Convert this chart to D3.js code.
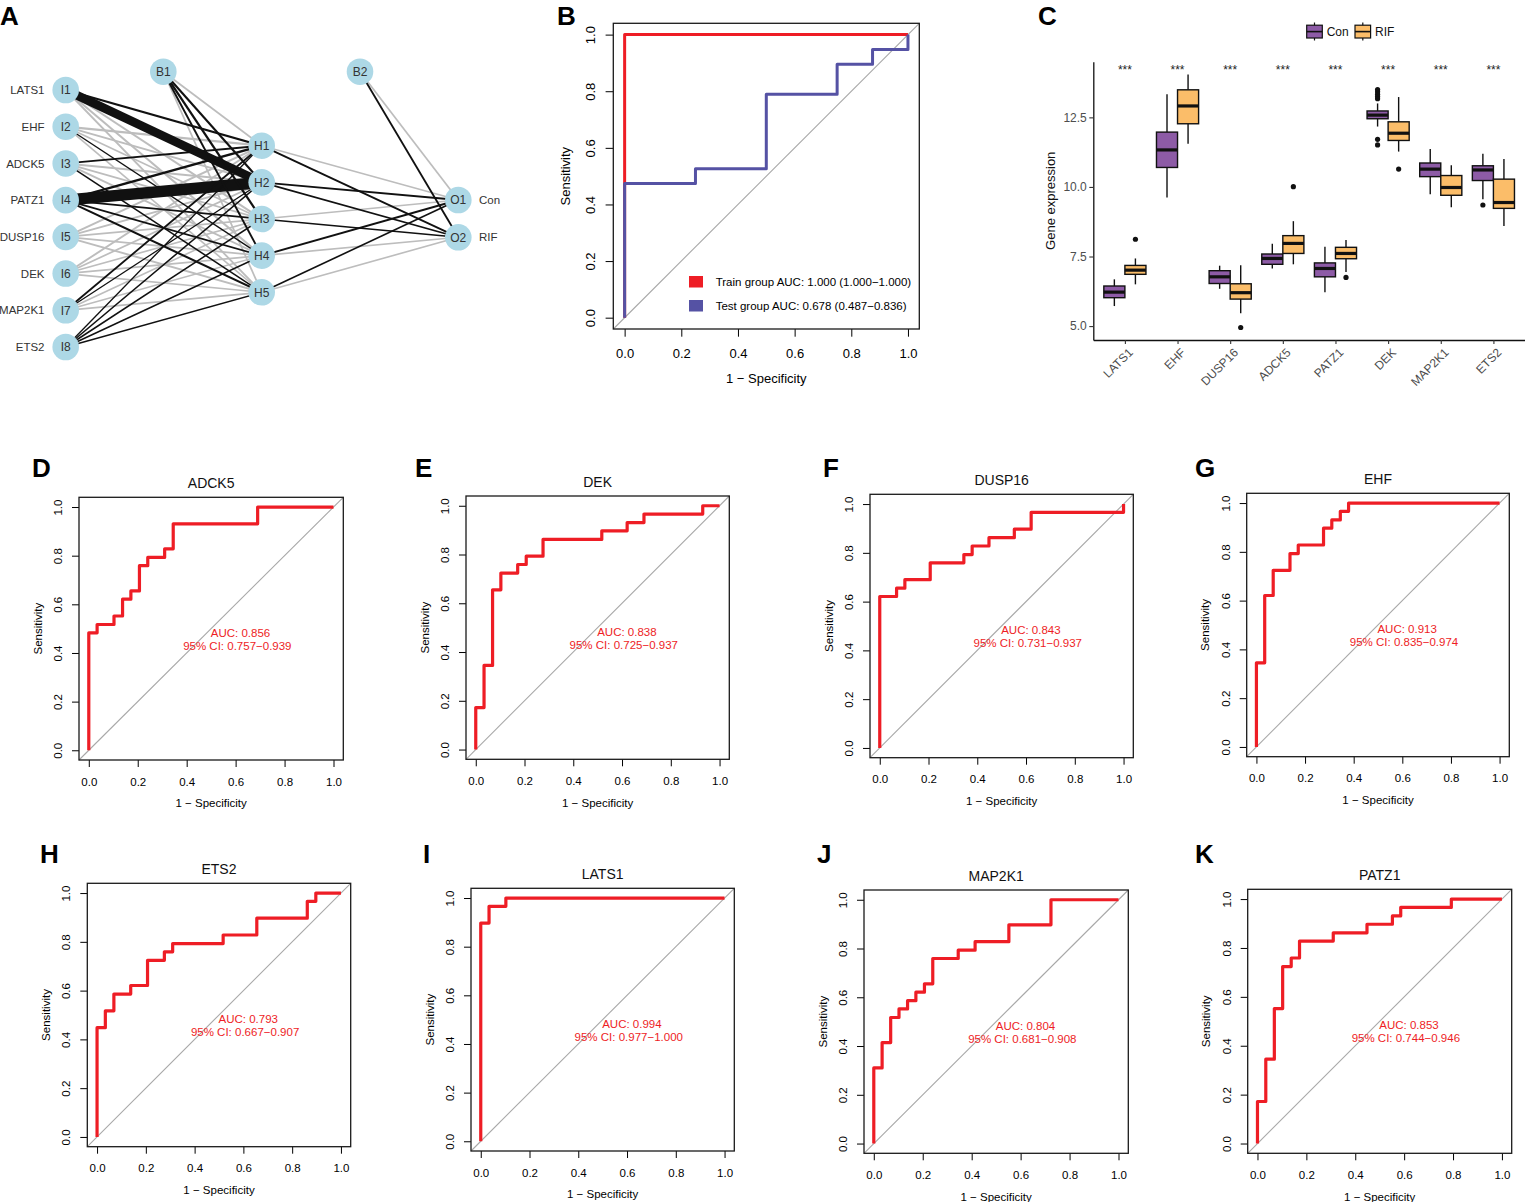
<!DOCTYPE html>
<html><head><meta charset="utf-8">
<script src="https://cdn.jsdelivr.net/npm/d3@7/dist/d3.min.js"></script>
<style>
body{margin:0;background:#fff;}
svg{display:block;font-family:"Liberation Sans",Arial,Helvetica,sans-serif;}
</style>
</head><body>
<svg id="fig" width="1525" height="1202"></svg>
<script>
// ---------------- DATA ----------------
// Panel A: neural network
const inputGenes = ["LATS1","EHF","ADCK5","PATZ1","DUSP16","DEK","MAP2K1","ETS2"];
const inputNodes = ["I1","I2","I3","I4","I5","I6","I7","I8"];
const hiddenNodes = ["H1","H2","H3","H4","H5"];
const outputNodes = ["O1","O2"];
const outputClasses = ["Con","RIF"];
// signed weights (positive = black, negative = grey), magnitude -> line width
const inputHiddenWeights = [
  [ 2.4,  9.0, -2.1, -2.1, -1.9],
  [-2.3, -1.9, -1.7,  1.4, -1.7],
  [ 1.9, -2.1, -1.9, -1.9,  1.6],
  [ 2.4, 12.0,  1.8,  1.8,  2.2],
  [-2.1, -2.0, -1.8, -1.8, -2.0],
  [-2.0, -1.8, -1.7, -1.7, -1.8],
  [ 1.9,  1.3, -1.7, -1.7, -1.8],
  [ 1.4,  1.6,  1.6,  1.6,  1.5]
];
const biasHiddenWeights = [-1.9, 2.2, 2.4, 2.0, -1.8];
const hiddenOutputWeights = [
  [-1.7, 1.9],
  [ 2.0, 1.7],
  [-1.7, 1.7],
  [ 2.0,-1.7],
  [ 1.7,-1.7]
];
const biasOutputWeights = [-1.8, 1.9];

// Panel B: train / test ROC
const trainFpr = [0, 0, 1];
const trainTpr = [0, 1, 1];
const testFpr = [0, 0, 0.25, 0.5, 0.75, 0.875, 1];
const testTpr = [0, 0.474, 0.526, 0.789, 0.895, 0.947, 1];
const trainLegend = "Train group AUC: 1.000 (1.000\u22121.000)";
const testLegend = "Test group AUC: 0.678 (0.487\u22120.836)";

// Panel C: boxplots
const boxGenes = ["LATS1","EHF","DUSP16","ADCK5","PATZ1","DEK","MAP2K1","ETS2"];
const conMin    = [5.72, 9.62, 6.34, 7.07, 6.22, 12.17, 9.74, 9.56];
const conQ1     = [6.02, 10.70, 6.53, 7.22, 6.77, 12.45, 10.37, 10.23];
const conMedian = [6.22, 11.33, 6.77, 7.43, 7.07, 12.58, 10.64, 10.61];
const conQ3     = [6.44, 11.97, 6.99, 7.59, 7.27, 12.73, 10.86, 10.76];
const conMax    = [6.68, 13.33, 7.17, 7.96, 7.85, 13.00, 11.36, 11.19];
const conOutliers = [[],[],[],[],[],[13.17,13.25,13.33,13.42,13.5,11.71,11.51],[],[9.35]];
const rifMin    = [6.50, 11.55, 5.46, 7.22, 6.94, 11.27, 9.27, 8.60];
const rifQ1     = [6.86, 12.27, 5.97, 7.61, 7.42, 11.67, 9.70, 9.23];
const rifMedian = [7.01, 12.91, 6.20, 7.97, 7.61, 11.93, 9.98, 9.44];
const rifQ3     = [7.18, 13.49, 6.52, 8.25, 7.83, 12.34, 10.41, 10.28];
const rifMax    = [7.43, 14.04, 7.19, 8.77, 8.09, 13.23, 10.78, 11.00];
const rifOutliers = [[8.12],[],[4.95],[10.01],[6.75],[10.64],[],[]];
const sigLabels = ["***","***","***","***","***","***","***","***"];
const groupNames = ["Con","RIF"];
const boxTicks = [5.0, 7.5, 10.0, 12.5];

// Panels D-K: single-gene ROC curves
const rocGenes = ["ADCK5","DEK","DUSP16","EHF","ETS2","LATS1","MAP2K1","PATZ1"];
const adck5Fpr  = [0,0,0.034,0.103,0.138,0.172,0.207,0.241,0.310,0.345,0.690,1];
const adck5Tpr  = [0,0.483,0.517,0.552,0.621,0.655,0.759,0.793,0.828,0.931,1,1];
const dekFpr    = [0,0,0.034,0.069,0.103,0.172,0.207,0.276,0.517,0.621,0.690,0.931,1];
const dekTpr    = [0,0.172,0.345,0.655,0.724,0.759,0.793,0.862,0.897,0.931,0.966,1,1];
const dusp16Fpr = [0,0,0.069,0.103,0.207,0.345,0.379,0.448,0.552,0.621,1];
const dusp16Tpr = [0,0.621,0.655,0.690,0.759,0.793,0.828,0.862,0.897,0.966,1];
const ehfFpr    = [0,0,0.034,0.069,0.138,0.172,0.276,0.310,0.345,0.379,1];
const ehfTpr    = [0,0.345,0.621,0.724,0.793,0.828,0.897,0.931,0.966,1,1];
const ets2Fpr   = [0,0,0.034,0.069,0.138,0.207,0.276,0.310,0.517,0.655,0.862,0.897,1];
const ets2Tpr   = [0,0.448,0.517,0.586,0.621,0.724,0.759,0.793,0.828,0.897,0.966,1,1];
const lats1Fpr  = [0,0,0.034,0.103,1];
const lats1Tpr  = [0,0.897,0.966,1,1];
const map2k1Fpr = [0,0,0.034,0.069,0.103,0.138,0.172,0.207,0.241,0.345,0.414,0.552,0.724,1];
const map2k1Tpr = [0,0.310,0.414,0.517,0.552,0.586,0.621,0.655,0.759,0.793,0.828,0.897,1,1];
const patz1Fpr  = [0,0,0.034,0.069,0.103,0.138,0.172,0.310,0.448,0.552,0.586,0.793,1];
const patz1Tpr  = [0,0.172,0.345,0.552,0.724,0.759,0.828,0.862,0.897,0.931,0.966,1,1];
const rocFprList = [adck5Fpr, dekFpr, dusp16Fpr, ehfFpr, ets2Fpr, lats1Fpr, map2k1Fpr, patz1Fpr];
const rocTprList = [adck5Tpr, dekTpr, dusp16Tpr, ehfTpr, ets2Tpr, lats1Tpr, map2k1Tpr, patz1Tpr];
const aucValues = ["0.856","0.838","0.843","0.913","0.793","0.994","0.804","0.853"];
const ciLow  = ["0.757","0.725","0.731","0.835","0.667","0.977","0.681","0.744"];
const ciHigh = ["0.939","0.937","0.937","0.974","0.907","1.000","0.908","0.946"];
const rocTicks = [0, 0.2, 0.4, 0.6, 0.8, 1.0];

// ---------------- STYLE / LAYOUT ----------------
const RED = "#ee1d25", BLUE = "#5552a4", GREY_DIAG = "#a8a8a8";
const NET_POS = "#111111", NET_NEG = "#bdbdbd", NODE = "#add8e6";
const CON_COL = "#8d5ba6", RIF_COL = "#fbbd69";

const svg = d3.select("#fig");
svg.append("rect").attr("width",1525).attr("height",1202).attr("fill","#fff");

// panel letters
const letters = [["A",0,25],["B",557,25],["C",1038,25],["D",32,477],["E",415,477],["F",823,477],["G",1195,477],
  ["H",40,863],["I",423,863],["J",817,863],["K",1195,863]];
svg.selectAll("text.letter").data(letters).join("text").attr("class","letter")
  .attr("x",d=>d[1]).attr("y",d=>d[2]).text(d=>d[0])
  .attr("font-size",26).attr("font-weight","bold").attr("fill","#000");

// ---------------- PANEL A ----------------
(function(){
  const g = svg.append("g");
  const yIn = d3.scalePoint().domain(inputNodes).range([90, 347]);
  const yHid = d3.scalePoint().domain(hiddenNodes).range([145.7, 292.3]);
  const yOut = d3.scalePoint().domain(outputNodes).range([200, 237.3]);
  const xIn = 65.7, xHid = 261.7, xOut = 458.3, xB1 = 163.3, xB2 = 360, yBias = 71.7;
  const wScale = d3.scaleLinear().domain([0, 12]).range([0, 11.5]);
  const edges = [];
  inputNodes.forEach((n,i)=>hiddenNodes.forEach((h,j)=>edges.push({x1:xIn,y1:yIn(n),x2:xHid,y2:yHid(h),w:inputHiddenWeights[i][j]})));
  hiddenNodes.forEach((h,j)=>edges.push({x1:xB1,y1:yBias,x2:xHid,y2:yHid(h),w:biasHiddenWeights[j]}));
  hiddenNodes.forEach((h,j)=>outputNodes.forEach((o,k)=>edges.push({x1:xHid,y1:yHid(h),x2:xOut,y2:yOut(o),w:hiddenOutputWeights[j][k]})));
  outputNodes.forEach((o,k)=>edges.push({x1:xB2,y1:yBias,x2:xOut,y2:yOut(o),w:biasOutputWeights[k]}));
  edges.sort((a,b)=>(a.w>0)-(b.w>0));
  g.selectAll("line.edge").data(edges).join("line").attr("class","edge")
    .attr("x1",d=>d.x1).attr("y1",d=>d.y1).attr("x2",d=>d.x2).attr("y2",d=>d.y2)
    .attr("stroke",d=>d.w>0?NET_POS:NET_NEG).attr("stroke-width",d=>wScale(Math.abs(d.w)));
  const nodes = [];
  inputNodes.forEach(n=>nodes.push({x:xIn,y:yIn(n),t:n}));
  hiddenNodes.forEach(n=>nodes.push({x:xHid,y:yHid(n),t:n}));
  outputNodes.forEach(n=>nodes.push({x:xOut,y:yOut(n),t:n}));
  nodes.push({x:xB1,y:yBias,t:"B1"}); nodes.push({x:xB2,y:yBias,t:"B2"});
  const ng = g.selectAll("g.node").data(nodes).join("g").attr("class","node");
  ng.append("circle").attr("cx",d=>d.x).attr("cy",d=>d.y).attr("r",13.3).attr("fill",NODE);
  ng.append("text").attr("x",d=>d.x).attr("y",d=>d.y).attr("dy","0.36em").attr("text-anchor","middle")
    .attr("font-size",12).attr("fill","#333").text(d=>d.t);
  g.selectAll("text.inlab").data(inputGenes).join("text").attr("class","inlab")
    .attr("x",44.5).attr("y",(d,i)=>yIn(inputNodes[i])).attr("dy","0.36em").attr("text-anchor","end")
    .attr("font-size",11.5).attr("fill","#333").text(d=>d);
  g.selectAll("text.outlab").data(outputClasses).join("text").attr("class","outlab")
    .attr("x",479).attr("y",(d,i)=>yOut(outputNodes[i])).attr("dy","0.36em")
    .attr("font-size",11.5).attr("fill","#333").text(d=>d);
})();

// ---------------- ROC helper ----------------
function rocFrame(box, fs, tickLen, offs){
  const g = svg.append("g");
  const x = d3.scaleLinear().domain([-0.04,1.04]).range([box.L, box.R]);
  const y = d3.scaleLinear().domain([-0.04,1.04]).range([box.B, box.T]);
  g.append("line").attr("x1",x(-0.04)).attr("y1",y(-0.04)).attr("x2",x(1.04)).attr("y2",y(1.04))
    .attr("stroke",GREY_DIAG).attr("stroke-width",1.1);
  const ax = g.append("g").attr("transform",`translate(0,${box.B})`)
    .call(d3.axisBottom(x).tickValues(rocTicks).tickFormat(d3.format(".1f")).tickSize(tickLen).tickSizeOuter(0));
  ax.select(".domain").remove();
  ax.selectAll("line").attr("stroke","#000").attr("stroke-width",1);
  ax.selectAll("text").attr("y",offs.xl).attr("dy","0.35em").attr("font-size",fs).attr("fill","#000")
    .attr("font-family","Liberation Sans, Arial, sans-serif");
  const ay = g.append("g").attr("transform",`translate(${box.L},0)`)
    .call(d3.axisLeft(y).tickValues(rocTicks).tickFormat(d3.format(".1f")).tickSize(tickLen).tickSizeOuter(0));
  ay.select(".domain").remove();
  ay.selectAll("line").attr("stroke","#000").attr("stroke-width",1);
  ay.selectAll("text").attr("x",0).attr("dy","0.35em").attr("text-anchor","middle")
    .attr("transform",`translate(${-offs.yl},0) rotate(-90)`).attr("font-size",fs).attr("fill","#000")
    .attr("font-family","Liberation Sans, Arial, sans-serif");
  g.append("rect").attr("x",box.L).attr("y",box.T).attr("width",box.R-box.L).attr("height",box.B-box.T)
    .attr("fill","none").attr("stroke","#1a1a1a").attr("stroke-width",1.3);
  g.append("text").attr("x",(box.L+box.R)/2).attr("y",box.B+offs.xt).attr("dy","0.35em").attr("text-anchor","middle")
    .attr("font-size",fs).text("1 \u2212 Specificity");
  g.append("text").attr("transform",`translate(${box.L-offs.yt},${(box.T+box.B)/2}) rotate(-90)`)
    .attr("dy","0.35em").attr("text-anchor","middle").attr("font-size",fs).text("Sensitivity");
  return {g,x,y};
}

// ---------------- PANEL B ----------------
(function(){
  const box = {L:613.3,T:23.3,R:919.3,B:329};
  const {g,x,y} = rocFrame(box, 13, 7.7, {xl:24.3, yl:23.3, xt:49.3, yt:48.3});
  const line = d3.line().x(d=>x(d[0])).y(d=>y(d[1])).curve(d3.curveStepAfter);
  g.append("path").attr("d",line(trainFpr.map((f,i)=>[f,trainTpr[i]])))
    .attr("fill","none").attr("stroke",RED).attr("stroke-width",3).attr("stroke-linejoin","round");
  g.append("path").attr("d",line(testFpr.map((f,i)=>[f,testTpr[i]])))
    .attr("fill","none").attr("stroke",BLUE).attr("stroke-width",3).attr("stroke-linejoin","round");
  const leg = [[trainLegend,RED],[testLegend,BLUE]];
  leg.forEach((d,i)=>{
    g.append("rect").attr("x",689).attr("y",276+i*24).attr("width",14).attr("height",11.5).attr("fill",d[1]);
    g.append("text").attr("x",715.7).attr("y",282+i*24).attr("dy","0.35em").attr("font-size",11.5).text(d[0]);
  });
})();

// ---------------- PANELS D-K ----------------
const rocBoxes = [
  {L:79,T:497.3,R:343.3,B:760},
  {L:466,T:496,R:729.3,B:759.3},
  {L:870,T:494.3,R:1133.3,B:757.7},
  {L:1246.7,T:493.3,R:1509.3,B:756.7},
  {L:87.3,T:883.3,R:350.7,B:1146.7},
  {L:471,T:888.3,R:734.3,B:1151},
  {L:864,T:890,R:1128.3,B:1153.3},
  {L:1247.7,T:889.3,R:1511.7,B:1153.3}
];
rocGenes.forEach((gene,i)=>{
  const box = rocBoxes[i];
  const {g,x,y} = rocFrame(box, 11.5, 7, {xl:21.7, yl:21, xt:43.3, yt:41.3});
  const line = d3.line().x(d=>x(d[0])).y(d=>y(d[1])).curve(d3.curveStepAfter);
  const pts = rocFprList[i].map((f,k)=>[f, rocTprList[i][k]]);
  g.append("path").attr("d",line(pts)).attr("fill","none").attr("stroke",RED)
    .attr("stroke-width",3.2).attr("stroke-linejoin","round");
  g.append("text").attr("x",(box.L+box.R)/2).attr("y",box.T-9.3).attr("text-anchor","middle")
    .attr("font-size",14).attr("fill","#111").text(gene);
  g.append("text").attr("x",x(0.62)).attr("y",y(0.483)).attr("dy","0.35em").attr("text-anchor","middle")
    .attr("font-size",11.5).attr("fill",RED).text("AUC: " + aucValues[i]);
  g.append("text").attr("x",x(0.607)).attr("y",y(0.43)).attr("dy","0.35em").attr("text-anchor","middle")
    .attr("font-size",11.5).attr("fill",RED).text("95% CI: " + ciLow[i] + "\u2212" + ciHigh[i]);
});

// ---------------- PANEL C ----------------
(function(){
  const g = svg.append("g");
  const x = d3.scalePoint().domain(boxGenes).range([1093.3,1525]).padding(0.6);
  const y = d3.scaleLinear().domain([4.5,14.5]).range([340,61.7]);
  const step = x.step(), bw = 0.4*step;
  const groups = [
    {name:"Con", col:CON_COL, off:-0.2*step, mn:conMin, q1:conQ1, md:conMedian, q3:conQ3, mx:conMax, out:conOutliers},
    {name:"RIF", col:RIF_COL, off: 0.2*step, mn:rifMin, q1:rifQ1, md:rifMedian, q3:rifQ3, mx:rifMax, out:rifOutliers}
  ];
  groups.forEach(gr=>{
    boxGenes.forEach((gene,i)=>{
      const cx = x(gene)+gr.off;
      g.append("line").attr("x1",cx).attr("x2",cx).attr("y1",y(gr.mx[i])).attr("y2",y(gr.q3[i])).attr("stroke","#111").attr("stroke-width",1.4);
      g.append("line").attr("x1",cx).attr("x2",cx).attr("y1",y(gr.q1[i])).attr("y2",y(gr.mn[i])).attr("stroke","#111").attr("stroke-width",1.4);
      g.append("rect").attr("x",cx-bw/2).attr("width",bw).attr("y",y(gr.q3[i])).attr("height",y(gr.q1[i])-y(gr.q3[i]))
        .attr("fill",gr.col).attr("stroke","#111").attr("stroke-width",1.4);
      g.append("line").attr("x1",cx-bw/2).attr("x2",cx+bw/2).attr("y1",y(gr.md[i])).attr("y2",y(gr.md[i]))
        .attr("stroke","#111").attr("stroke-width",3.2);
      g.selectAll(null).data(gr.out[i]).join("circle").attr("cx",cx).attr("cy",d=>y(d)).attr("r",2.6).attr("fill","#111");
    });
  });
  const ay = g.append("g").attr("transform","translate(1093.3,0)")
    .call(d3.axisLeft(y).tickValues(boxTicks).tickFormat(d3.format(".1f")).tickSize(4).tickSizeOuter(0));
  ay.select(".domain").attr("stroke","#111").attr("stroke-width",1.3);
  ay.selectAll(".tick line").attr("stroke","#333").attr("stroke-width",1.1);
  ay.selectAll("text").attr("font-size",12).attr("fill","#4d4d4d").attr("x",-6.5)
    .attr("font-family","Liberation Sans, Arial, sans-serif");
  const ax = g.append("g").attr("transform","translate(0,340)")
    .call(d3.axisBottom(x).tickSize(4).tickSizeOuter(0));
  ax.select(".domain").attr("stroke","#111").attr("stroke-width",1.3);
  ax.selectAll(".tick line").attr("stroke","#333").attr("stroke-width",1.1);
  ax.selectAll("text").attr("font-size",12).attr("fill","#4d4d4d").attr("y",0).attr("dy",0)
    .attr("text-anchor","end").attr("dominant-baseline","hanging")
    .attr("transform","translate(2,7) rotate(-45)")
    .attr("font-family","Liberation Sans, Arial, sans-serif");
  g.append("text").attr("transform","translate(1050,200.8) rotate(-90)").attr("dy","0.35em")
    .attr("text-anchor","middle").attr("font-size",13).attr("fill","#111").text("Gene expression");
  g.selectAll("text.sig").data(sigLabels).join("text").attr("class","sig")
    .attr("x",(d,i)=>x(boxGenes[i])).attr("y",74).attr("text-anchor","middle")
    .attr("font-size",12).attr("fill","#222").text(d=>d);
  const legX = [1306.7, 1355];
  const legCols = [CON_COL, RIF_COL];
  groupNames.forEach((nm,i)=>{
    const lx = legX[i];
    g.append("line").attr("x1",lx+7.8).attr("x2",lx+7.8).attr("y1",22.5).attr("y2",40.5).attr("stroke","#111").attr("stroke-width",1.2);
    g.append("rect").attr("x",lx).attr("y",25.2).attr("width",15.6).attr("height",12.8).attr("fill",legCols[i]).attr("stroke","#111").attr("stroke-width",1.2);
    g.append("line").attr("x1",lx).attr("x2",lx+15.6).attr("y1",31.6).attr("y2",31.6).attr("stroke","#111").attr("stroke-width",1.6);
    g.append("text").attr("x",lx+20).attr("y",31.8).attr("dy","0.35em").attr("font-size",12).attr("fill","#111").text(nm);
  });
})();
</script>
</body></html>
